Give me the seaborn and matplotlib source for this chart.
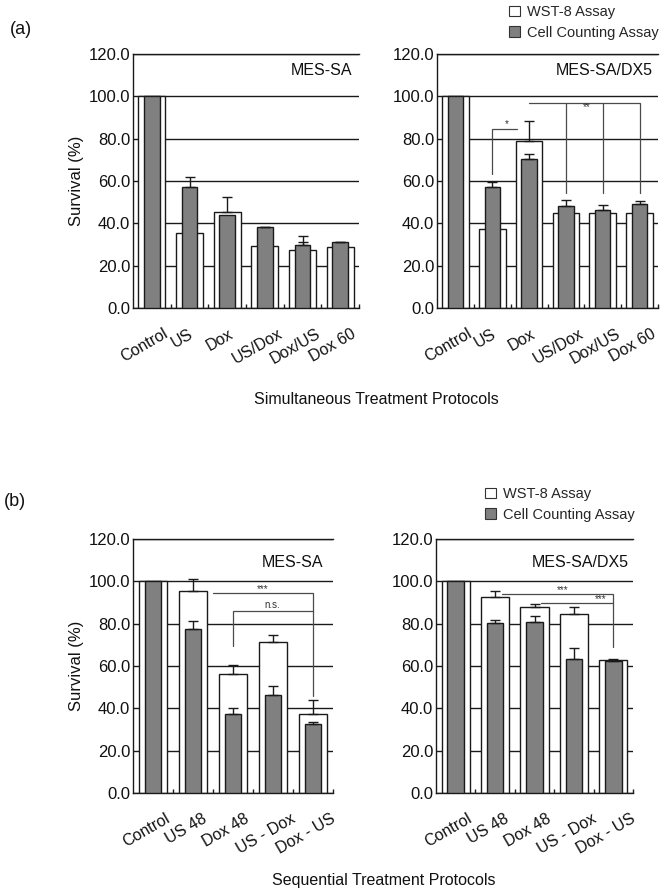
import numpy as np
import pandas as pd
import matplotlib
matplotlib.use("Agg")
import matplotlib.pyplot as plt
from matplotlib.patches import Patch
from matplotlib.transforms import ScaledTranslation
import seaborn as sns

sns.set_theme(style="white")
plt.rcParams['font.family'] = ['Liberation Sans', 'DejaVu Sans']
plt.rcParams['axes.spines.right'] = False

# ---------------- data ----------------
cats_sim = ['Control', 'US', 'Dox', 'US/Dox', 'Dox/US', 'Dox 60']
cats_seq = ['Control', 'US 48', 'Dox 48', 'US - Dox', 'Dox - US']

# (a) MES-SA, simultaneous
a1_wst = [100, 35.2, 45.4, 29.2, 27.3, 28.6]
a1_wst_err = [0, 1.5, 7.2, 1.5, 6.5, 1.0]
a1_cc = [100, 57.3, 44.0, 38.1, 29.7, 31.0]
a1_cc_err = [0, 4.5, 0, 0.4, 1.5, 0.4]

# (a) MES-SA/DX5, simultaneous
a2_wst = [100, 37.3, 78.7, 44.9, 44.9, 44.9]
a2_wst_err = [0, 1.5, 9.5, 1.5, 1.0, 1.5]
a2_cc = [100, 57.2, 70.4, 48.3, 46.1, 49.1]
a2_cc_err = [0, 2.1, 2.3, 2.5, 2.4, 1.3]

# (b) MES-SA, sequential
b1_wst = [100, 95.4, 56.1, 71.4, 37.3]
b1_wst_err = [0, 5.6, 4.2, 3.1, 6.8]
b1_cc = [100, 77.6, 37.4, 46.4, 32.5]
b1_cc_err = [0, 3.7, 2.7, 4.0, 1.2]

# (b) MES-SA/DX5, sequential
b2_wst = [100, 92.5, 88.1, 84.5, 62.6]
b2_wst_err = [0, 3.1, 1.1, 3.6, 0]
b2_cc = [100, 80.4, 80.9, 63.5, 62.3]
b2_cc_err = [0, 1.4, 2.8, 4.9, 0.9]

y_ticks = [0, 20, 40, 60, 80, 100, 120]
legend_labels = ['WST-8 Assay', 'Cell Counting Assay']

WHITE = 'white'
GREY = '#808080'
LINE = '#1a1a1a'
ANN = '#4a4a4a'

fig = plt.figure(figsize=(6.68, 8.88), dpi=100)
W, H = 668.0, 888.0


def add_ax(x0, x1, ytop, ybot):
    return fig.add_axes([x0 / W, 1 - ybot / H, (x1 - x0) / W, (ybot - ytop) / H])


def draw_panel(ax, cats, wst, wst_err, cc, cc_err, title, title_x, title_y, ylabel):
    n = len(cats)
    df = pd.DataFrame({'cat': cats, 'wst': wst, 'cc': cc})
    ax.set_axisbelow(True)
    sns.barplot(data=df, x='cat', y='wst', order=cats, color=WHITE, edgecolor=LINE,
                linewidth=1.0, width=0.72, saturation=1, errorbar=None, ax=ax)
    for p in ax.patches:
        p.set_zorder(1)
    xs = np.arange(n)
    we = np.array(wst_err, dtype=float)
    m = we > 0
    ax.errorbar(xs[m], np.array(wst)[m], yerr=[np.zeros(m.sum()), we[m]], fmt='none',
                ecolor=LINE, elinewidth=1.0, capsize=3.5, capthick=1.0, zorder=2)
    nb = len(ax.patches)
    sns.barplot(data=df, x='cat', y='cc', order=cats, color=GREY, edgecolor=LINE,
                linewidth=1.0, width=0.42, saturation=1, errorbar=None, ax=ax)
    for p in ax.patches[nb:]:
        p.set_zorder(3)
    ce = np.array(cc_err, dtype=float)
    m = ce > 0
    ax.errorbar(xs[m], np.array(cc)[m], yerr=[np.zeros(m.sum()), ce[m]], fmt='none',
                ecolor=LINE, elinewidth=1.0, capsize=3.5, capthick=1.0, zorder=4)

    ax.set_xlim(-0.5, n - 0.5)
    ax.set_ylim(0, 120)
    ax.set_yticks(y_ticks)
    ax.set_yticklabels([f'{v:.1f}' for v in y_ticks], fontsize=12, color='#111111')
    ax.yaxis.grid(True, which='major', color=LINE, linewidth=1.0)
    ax.tick_params(axis='y', which='both', length=0, pad=2, left=False, right=False)
    ax.set_xticks(xs)
    ax.set_xticklabels(cats, rotation=30, ha='center', va='top', fontsize=11.5,
                       color='#111111')
    ax.tick_params(axis='x', which='major', length=0, pad=13)
    ax.set_xticks(np.arange(0.5, n, 1.0), minor=True)
    ax.tick_params(axis='x', which='minor', direction='in', length=3, width=1.0,
                   color=LINE, bottom=True, top=False)
    off = ScaledTranslation(-7 / 100, 0, fig.dpi_scale_trans)
    for lab in ax.get_xticklabels():
        lab.set_transform(lab.get_transform() + off)
    ax.set_xlabel('')
    for s in ['left', 'bottom', 'top']:
        ax.spines[s].set_color(LINE)
        ax.spines[s].set_linewidth(1.0)
    ax.spines['right'].set_visible(False)
    ax.text(title_x, title_y, title, transform=ax.get_yaxis_transform(), ha='right',
            va='center', fontsize=11.5, color='#111111')
    if ylabel:
        ax.set_ylabel('Survival (%)', fontsize=12, color='#111111')
    else:
        ax.set_ylabel('')


def bracket(ax, pts):
    ax.plot([p[0] for p in pts], [p[1] for p in pts], color=ANN, linewidth=0.9,
            zorder=5, solid_joinstyle='miter')


def star(ax, x, y, s, fs=7):
    ax.text(x, y, s, ha='center', va='center', fontsize=fs, color='#333333', zorder=6)


# ---------------- panels ----------------
ax1 = add_ax(133, 359, 54, 308)
draw_panel(ax1, cats_sim, a1_wst, a1_wst_err, a1_cc, a1_cc_err, 'MES-SA', 0.969, 112, True)
ax1.yaxis.set_label_coords(-0.215, 0.5)

ax2 = add_ax(437, 658, 54, 308)
draw_panel(ax2, cats_sim, a2_wst, a2_wst_err, a2_cc, a2_cc_err, 'MES-SA/DX5', 0.977, 112, False)
bracket(ax2, [(1, 63.3), (1, 84.7), (1.66, 84.7)])
star(ax2, 1.40, 86.8, '*')
bracket(ax2, [(2.0, 96.8), (5.0, 96.8), (5.0, 54.3)])
bracket(ax2, [(3.0, 96.8), (3.0, 54.3)])
bracket(ax2, [(4.0, 96.8), (4.0, 54.3)])
star(ax2, 3.56, 94.8, '**')

ax3 = add_ax(133, 333, 539, 793)
draw_panel(ax3, cats_seq, b1_wst, b1_wst_err, b1_cc, b1_cc_err, 'MES-SA', 0.952, 108.8, True)
ax3.yaxis.set_label_coords(-0.245, 0.5)
bracket(ax3, [(1.5, 94.4), (4.0, 94.4), (4.0, 46.0)])
star(ax3, 2.73, 96.2, '***')
bracket(ax3, [(2.0, 69.3), (2.0, 86.2), (4.0, 86.2)])
ax3.text(2.97, 88.6, 'n.s.', ha='center', va='center', fontsize=7, color='#333333', zorder=6)

ax4 = add_ax(436, 633, 539, 793)
draw_panel(ax4, cats_seq, b2_wst, b2_wst_err, b2_cc, b2_cc_err, 'MES-SA/DX5', 0.976, 108.8, False)
bracket(ax4, [(1.17, 94.1), (4.0, 94.1), (4.0, 69.2)])
bracket(ax4, [(2.17, 89.9), (4.0, 89.9)])
star(ax4, 2.72, 96.0, '***')
star(ax4, 3.68, 91.8, '***')

# ---------------- legends ----------------
handles = [Patch(facecolor=WHITE, edgecolor='#333333', linewidth=0.8),
           Patch(facecolor=GREY, edgecolor='#333333', linewidth=0.8)]
for (lx, ly) in [(509, 5), (485, 487)]:
    fig.legend(handles, legend_labels, loc='upper left',
               bbox_to_anchor=(lx / W, 1 - ly / H), frameon=False, fontsize=10.5,
               handlelength=0.75, handleheight=0.75, handletextpad=0.5,
               labelspacing=0.45, borderpad=0, borderaxespad=0)

# ---------------- figure texts ----------------
fig.text(10 / W, 1 - 30 / H, '(a)', fontsize=13, ha='left', va='center', color='#111111')
fig.text(4 / W, 1 - 501 / H, '(b)', fontsize=13, ha='left', va='center', color='#111111')
fig.text(376 / W, 1 - 399 / H, 'Simultaneous Treatment Protocols', fontsize=11.5,
         ha='center', va='center', color='#111111')
fig.text(384 / W, 1 - 880 / H, 'Sequential Treatment Protocols', fontsize=11.5,
         ha='center', va='center', color='#111111')

fig.savefig('out.png', dpi=100, facecolor='white')

# diagnostic: report any tall narrow artist other than the left spine
fig.canvas.draw()
r = fig.canvas.get_renderer()
found = []
for ax in (ax1, ax2, ax3, ax4):
    for c in ax.get_children():
        try:
            if not c.get_visible():
                continue
            e = c.get_window_extent(r)
        except Exception:
            continue
        if abs(e.x1 - e.x0) < 4 and abs(e.y1 - e.y0) > 150 and c is not ax.spines['left']:
            found.append('%s %s' % (type(c).__name__, e))
if found:
    raise SystemExit('\n'.join(found))
